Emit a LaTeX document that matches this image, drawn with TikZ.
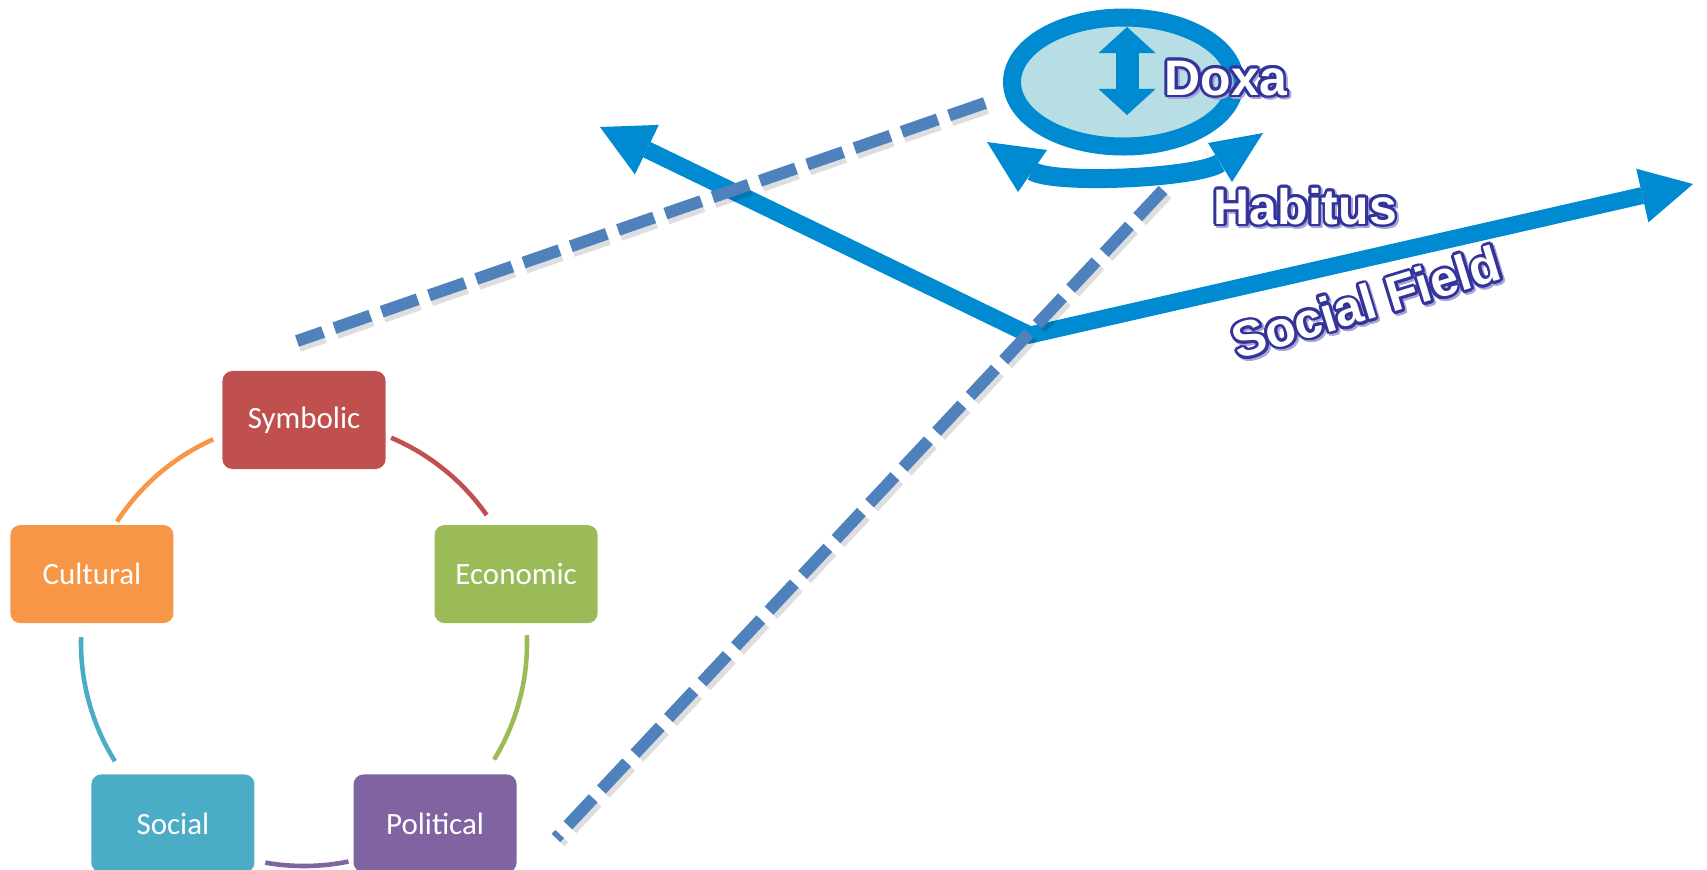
\documentclass[tikz,border=0pt]{standalone}
\usepackage{fontspec}
\setmainfont{Liberation Sans}
\newfontfamily\boxfont{Carlito}
\usepackage{contour}
\contourlength{0.8pt}
\usetikzlibrary{arrows.meta}
\usetikzlibrary{calc}

\definecolor{fieldblue}{RGB}{0,138,210}
\definecolor{dashblue}{RGB}{79,129,189}
\definecolor{doxafill}{RGB}{183,222,228}
\definecolor{wordblue}{RGB}{51,51,153}
\definecolor{wordshade}{RGB}{165,165,215}
\definecolor{symred}{RGB}{192,80,77}
\definecolor{ecogreen}{RGB}{155,187,89}
\definecolor{polpurple}{RGB}{128,100,162}
\definecolor{soccyan}{RGB}{75,172,198}
\definecolor{culorange}{RGB}{247,150,70}

\tikzset{
	capbox/.style={rounded corners=0.1cm, minimum width=1.63cm, minimum height=0.98cm, inner sep=0pt, text=white, font=\boxfont\fontsize{8.8}{10}\selectfont},
	fieldline/.style={line width=0.17cm, fieldblue, line join=miter},
	dashline/.style={line width=0.12cm, dashblue},
	wordart/.style={inner sep=0pt, anchor=base west, text=white, font=\bfseries\fontsize{14.2}{16}\selectfont},
	fieldtip/.tip={Triangle[length=0.52cm, width=0.55cm, line width=0pt]},
	doxatip/.tip={Triangle[length=0.26cm, width=0.57cm, line width=0pt]}
}

\begin{document}
\begin{tikzpicture} [x=0.01cm, y=-0.01cm]
		\useasboundingbox (0,0) rectangle (1707,869);
		% social field axes
		\coordinate (orig) at (1030,335);
		\coordinate (leftend) at (600,127);
		\coordinate (rightend) at (1693,184);
		\draw [fieldline, fieldtip-fieldtip] (leftend) -- (orig) -- (rightend);
		% dashed lines with their shadow
		\coordinate (dashAtop) at (985,103);
		\coordinate (dashAend) at (297,341);
		\coordinate (dashBtop) at (1163,190);
		\coordinate (dashBend) at (556,838);
		\draw [dashline, black, opacity=0.13, dash pattern=on 0.38cm off 0.12cm] ([shift={(2,5)}]dashAtop) -- ([shift={(2,5)}]dashAend);
		\draw [dashline, black, opacity=0.13, dash pattern=on 0.37cm off 0.12cm] ([shift={(4,4)}]dashBtop) -- ([shift={(4,4)}]dashBend);
		\draw [dashline, dash pattern=on 0.38cm off 0.12cm] (dashAtop) -- (dashAend);
		\draw [dashline, dash pattern=on 0.37cm off 0.12cm] (dashBtop) -- (dashBend);
		% doxa
		\draw [line width=0.18cm, fieldblue, fill=doxafill] (1123.5,82) ellipse [x radius=111.5, y radius=64.5];
		\draw [fieldblue, line width=0.23cm, doxatip-doxatip] (1127,27) -- (1127,115);
		% habitus
		\draw [fieldblue, line width=0.19cm] (1032,171) .. controls (1055,185) and (1198,178) .. (1220,163);
		\fill [fieldblue] (987,142) -- (1047,150) -- (1018,192) -- cycle;
		\fill [fieldblue] (1263,133) -- (1208,143) -- (1232,182) -- cycle;
		% labels
		\node [wordart, text=wordshade] (doxashade) at (1166,97) {\contour{wordshade}{Doxa}};
		\node [wordart] (doxa) at (1164,95) {\contour{wordblue}{Doxa}};
		\node [wordart, text=wordshade] (habitusshade) at (1215,226) {\contour{wordshade}{Habitus}};
		\node [wordart] (habitus) at (1213,224) {\contour{wordblue}{Habitus}};
		\node [wordart, text=wordshade, rotate=17] (fieldshade) at (1240,362) {\contour{wordshade}{Social Field}};
		\node [wordart, rotate=17] (field) at (1238,360) {\contour{wordblue}{Social Field}};
		% forms of capital
		\coordinate (cyc) at (304,643);
		\foreach \nm/\ang/\col/\txt in {sym/-90/symred/Symbolic, eco/-18/ecogreen/Economic, pol/54/polpurple/Political, soc/126/soccyan/Social, cul/198/culorange/Cultural} {
			\node [capbox, fill=\col] (\nm) at ($(cyc)+(\ang:223)$) {\txt};
		}
		\foreach \a/\b/\col in {-67/-35/symred, -2/31.5/ecogreen, 78.5/100/polpurple, 148/181.5/soccyan, 213/246/culorange} {
			\draw [\col, line width=1.3pt] ($(cyc)+(\a:223)$) arc [start angle=\a, end angle=\b, radius=223];
		}
		\end{tikzpicture}
\end{document}
